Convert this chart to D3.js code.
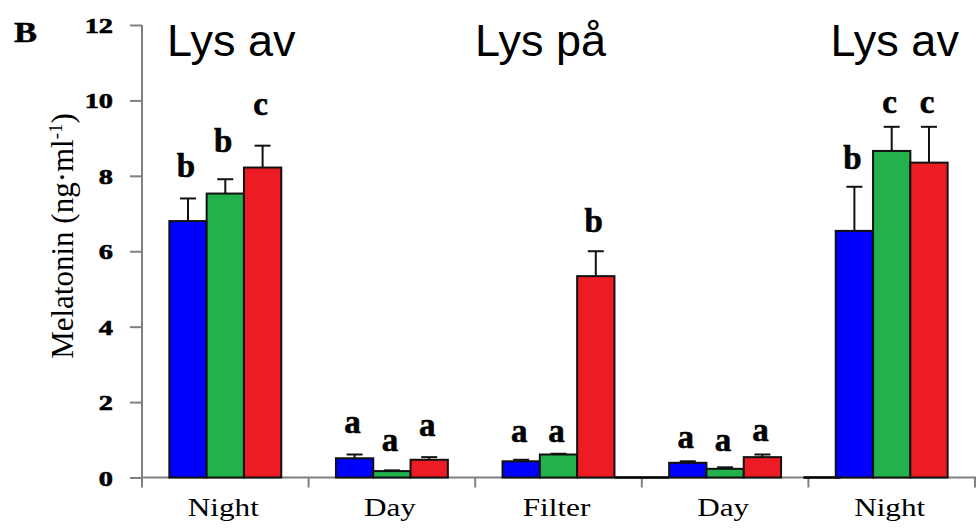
<!DOCTYPE html>
<html><head><meta charset="utf-8">
<script src="https://cdn.jsdelivr.net/npm/d3@7"></script>
<style>body{margin:0;background:#fff;overflow:hidden}</style>
</head><body><svg id="c" width="976" height="528"></svg>
<script>
// ---- data ----
const categories = ["Night", "Day", "Filter", "Day", "Night"];
const seriesNames = ["blue", "green", "red"];
const blueValues  = [6.80, 0.51, 0.43, 0.39, 6.54];
const greenValues = [7.53, 0.17, 0.61, 0.23, 8.66];
const redValues   = [8.22, 0.47, 5.34, 0.54, 8.35];
const blueErr  = [0.60, 0.10, 0.04, 0.04, 1.17];
const greenErr = [0.38, 0.02, 0.02, 0.04, 0.64];
const redErr   = [0.58, 0.07, 0.66, 0.07, 0.95];
const blueLetters  = ["b", "a", "a", "a", "b"];
const greenLetters = ["b", "a", "a", "a", "c"];
const redLetters   = ["c", "a", "b", "a", "c"];
const blueLetterAt  = [7.96, 1.19, 0.93, 0.77, 8.18];
const greenLetterAt = [8.63, 0.69, 0.93, 0.69, 9.66];
const redLetterAt   = [9.61, 1.11, 6.50, 0.98, 9.66];
const yTicks = [0, 2, 4, 6, 8, 10, 12];
const annotationCats = [0, 2, 4];
const annotationTexts = ["Lys av", "Lys på", "Lys av"];
const panelLabel = "B";
const yTitle = "Melatonin (ng·ml";

const colors = {blue: "#0000ff", green: "#22b14c", red: "#ed1c24"};
const values = {blue: blueValues, green: greenValues, red: redValues};
const errs = {blue: blueErr, green: greenErr, red: redErr};
const letters = {blue: blueLetters, green: greenLetters, red: redLetters};
const letterAt = {blue: blueLetterAt, green: greenLetterAt, red: redLetterAt};

const rows = [];
categories.forEach((c, i) => seriesNames.forEach(s => rows.push({
  i, s, v: values[s][i], e: errs[s][i], l: letters[s][i], la: letterAt[s][i]
})));

// ---- layout ----
const svg = d3.select("#c");
const axisX = 142, x1End = 975, yTop = 25, yBase = 477.5;
const y = d3.scaleLinear().domain([0, 12]).range([yBase, yTop]);
const x0 = d3.scaleBand().domain(d3.range(categories.length)).range([axisX, x1End]).padding(0);
const x1 = d3.scaleBand().domain(seriesNames).range([0, x0.bandwidth()]).paddingInner(0).paddingOuter(0.733);
const gray = "#808080";

// y axis
const ya = svg.append("g").attr("transform", `translate(${axisX},0)`)
  .call(d3.axisLeft(y).tickValues(yTicks).tickSize(12).tickSizeOuter(0).tickFormat(d3.format("d")));
ya.select(".domain").remove();
ya.selectAll(".tick line").attr("stroke", gray).attr("stroke-width", 2);
ya.selectAll(".tick text").remove();
ya.selectAll(".tick").append("text")
  .attr("transform", "translate(-29,0) scale(1.35,1)")
  .attr("text-anchor", "end").attr("dy", "0.36em")
  .attr("font-family", "Liberation Serif").attr("font-weight", "bold")
  .attr("font-size", 21).attr("fill", "#000").attr("stroke", "#000").attr("stroke-width", 0.6)
  .text(d => d);
svg.append("line").attr("x1", axisX).attr("x2", axisX).attr("y1", y(12)).attr("y2", yBase + 10)
  .attr("stroke", gray).attr("stroke-width", 2);

// x axis
svg.append("line").attr("x1", axisX - 1).attr("x2", 976).attr("y1", yBase).attr("y2", yBase)
  .attr("stroke", gray).attr("stroke-width", 2);
const bounds = d3.range(categories.length).map(i => x0(i)).concat([x0(categories.length - 1) + x0.bandwidth()]);
svg.selectAll("line.xt").data(bounds.slice(1)).join("line").attr("class", "xt")
  .attr("x1", d => d).attr("x2", d => d).attr("y1", yBase).attr("y2", yBase + 10)
  .attr("stroke", gray).attr("stroke-width", 2);
// darker baseline stretches (as in the reference)
const darkSegs = [[x0(2) + x1("red") + x1.bandwidth(), x0(3) + x1("blue")], [x0(4) - 5, x0(4) + x1("blue") + 5]];
svg.selectAll("line.ds").data(darkSegs).join("line").attr("class", "ds")
  .attr("x1", d => d[0]).attr("x2", d => d[1]).attr("y1", yBase).attr("y2", yBase)
  .attr("stroke", "#000").attr("stroke-width", 2.5);
svg.selectAll("text.xl").data(categories).join("text").attr("class", "xl")
  .attr("transform", (d, i) => `translate(${x0(i) + x0.bandwidth() / 2 - 2},516) scale(1.2,1)`)
  .attr("text-anchor", "middle").attr("font-family", "Liberation Serif").attr("font-size", 26)
  .attr("fill", "#000").text(d => d);

// bars
svg.append("g").selectAll("rect").data(rows).join("rect")
  .attr("x", d => x0(d.i) + x1(d.s))
  .attr("width", x1.bandwidth())
  .attr("y", d => y(d.v))
  .attr("height", d => y(0) - y(d.v))
  .attr("fill", d => colors[d.s])
  .attr("stroke", "#111").attr("stroke-width", 2);

// error bars
const eb = svg.append("g").attr("stroke", "#111").attr("stroke-width", 2);
eb.selectAll("line.v").data(rows).join("line").attr("class", "v")
  .attr("x1", d => x0(d.i) + x1(d.s) + x1.bandwidth() / 2)
  .attr("x2", d => x0(d.i) + x1(d.s) + x1.bandwidth() / 2)
  .attr("y1", d => y(d.v)).attr("y2", d => y(d.v + d.e));
eb.selectAll("line.cap").data(rows).join("line").attr("class", "cap")
  .attr("x1", d => x0(d.i) + x1(d.s) + x1.bandwidth() / 2 - 8)
  .attr("x2", d => x0(d.i) + x1(d.s) + x1.bandwidth() / 2 + 8)
  .attr("y1", d => y(d.v + d.e)).attr("y2", d => y(d.v + d.e));

// significance letters
svg.append("g").selectAll("text").data(rows).join("text")
  .attr("x", d => x0(d.i) + x1(d.s) + x1.bandwidth() / 2 - 2)
  .attr("y", d => y(d.la))
  .attr("text-anchor", "middle").attr("font-family", "Liberation Serif")
  .attr("font-weight", "bold").attr("font-size", 33).attr("fill", "#000")
  .attr("stroke", "#000").attr("stroke-width", 0.6)
  .text(d => d.l);

// y title
const yt = svg.append("text")
  .attr("transform", `translate(73,236) rotate(-90)`)
  .attr("text-anchor", "middle").attr("font-family", "Liberation Serif")
  .attr("font-size", 31).attr("fill", "#000");
yt.append("tspan").text(yTitle);
yt.append("tspan").attr("font-size", 19).attr("dy", -11).text("-1");
yt.append("tspan").attr("dy", 11).text(")");

// panel label
svg.append("text").attr("transform", "translate(14,42) scale(1.15,1)")
  .attr("font-family", "Liberation Serif").attr("font-weight", "bold")
  .attr("font-size", 30).attr("fill", "#000").attr("stroke", "#000").attr("stroke-width", 0.5)
  .text(panelLabel);

// annotations
svg.selectAll("text.ann").data(annotationCats).join("text").attr("class", "ann")
  .attr("x", (c, k) => x0(c) + x0.bandwidth() / 2 + [6, -18, 3][k])
  .attr("y", 56)
  .attr("text-anchor", "middle").attr("font-family", "Liberation Sans")
  .attr("font-size", 45).attr("fill", "#000")
  .text((c, k) => annotationTexts[k]);
</script></body></html>
